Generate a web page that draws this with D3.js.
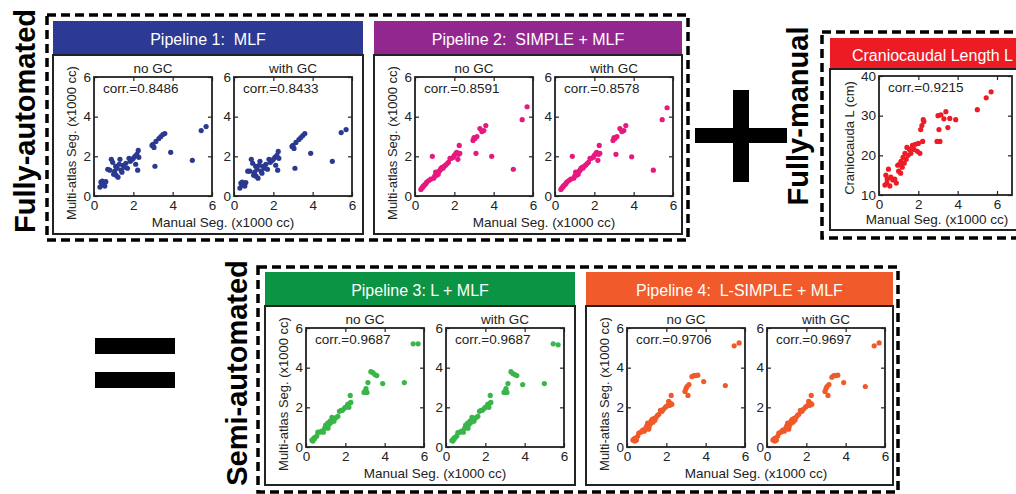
<!DOCTYPE html>
<html>
<head>
<meta charset="utf-8">
<script src="https://cdn.jsdelivr.net/npm/d3@7"></script>
<style>
  body { margin: 0; background: #fff; }
  svg { display: block; font-family: "Liberation Sans", Arial, sans-serif; }
</style>
</head>
<body>
<svg id="fig" width="1016" height="494"></svg>
<script>
// manual segmentation volume (x1000 cc), one entry per subject
const manual = [0.30,0.35,0.40,0.42,0.48,0.55,0.60,0.70,0.80,0.88,0.95,1.00,1.05,1.10,1.12,1.18,1.22,1.28,1.32,1.38,1.42,1.48,1.55,1.62,1.70,1.78,1.85,1.95,2.00,2.08,2.12,2.18,2.22,2.25,2.28,2.95,3.00,3.05,3.10,3.15,3.30,3.40,3.50,3.60,3.90,5.00,5.45,5.70];

// multi-atlas volumes per pipeline
const p1NoGC = [0.45,0.70,0.55,0.75,0.65,0.50,0.72,1.35,1.30,1.85,1.70,1.10,1.25,1.50,1.05,1.40,0.95,1.60,1.85,1.30,1.20,1.55,1.45,1.65,1.40,1.90,1.75,1.85,1.90,2.00,1.60,2.10,1.30,2.30,1.95,2.55,2.60,2.45,1.50,2.75,2.90,3.00,3.10,3.15,2.20,1.80,3.30,3.50];
const p1GC   = [0.40,0.65,0.55,0.70,0.60,0.50,0.68,1.25,1.25,1.85,1.65,1.05,1.20,1.50,1.00,1.35,0.90,1.55,1.75,1.25,1.15,1.50,1.40,1.60,1.35,1.85,1.70,1.80,1.85,1.95,1.55,2.05,1.30,2.25,1.90,2.50,2.55,2.40,1.40,2.70,2.85,2.95,3.05,3.15,2.15,1.75,3.20,3.35];
const p2NoGC = [0.33,0.40,0.45,0.50,0.55,0.62,0.70,0.78,0.85,2.00,0.90,1.00,1.20,1.05,1.15,1.10,1.25,1.30,1.40,1.45,1.40,1.50,1.55,1.62,1.70,1.90,1.90,1.95,2.05,2.15,2.20,1.85,2.10,2.55,2.15,2.80,2.95,2.90,2.15,3.00,3.40,3.25,3.30,3.55,2.00,1.35,3.85,4.50];
const p2GC   = [0.33,0.40,0.45,0.50,0.55,0.62,0.70,0.78,0.85,2.00,0.90,1.00,1.20,1.05,1.15,1.10,1.25,1.30,1.40,1.45,1.40,1.50,1.55,1.62,1.70,1.90,1.90,1.95,2.05,2.15,2.20,1.80,2.10,2.55,2.15,2.80,2.95,2.90,2.10,3.00,3.40,3.25,3.30,3.55,1.98,1.30,3.85,4.45];
const p3NoGC = [0.35,0.30,0.45,0.40,0.50,0.55,0.75,0.75,0.80,0.75,0.95,1.10,1.00,1.20,0.95,1.15,1.30,1.25,1.50,1.40,1.30,1.45,1.50,1.55,1.80,1.85,1.85,1.95,2.00,2.05,2.15,2.00,2.20,2.60,2.25,2.75,2.80,2.95,2.75,3.25,3.80,3.75,3.65,3.60,3.20,3.25,5.20,5.20];
const p3GC   = [0.33,0.30,0.45,0.40,0.50,0.55,0.72,0.75,0.80,0.75,0.95,1.10,1.00,1.20,0.95,1.15,1.30,1.25,1.50,1.40,1.30,1.45,1.50,1.55,1.80,1.85,1.85,1.95,2.00,2.05,2.15,2.00,2.20,2.60,2.25,2.75,2.80,2.95,2.75,3.20,3.80,3.70,3.65,3.60,3.15,3.20,5.20,5.15];
const p4NoGC = [0.35,0.40,0.30,0.45,0.35,0.55,0.70,0.75,0.85,0.80,0.95,1.05,1.20,0.90,1.00,1.15,1.30,1.40,1.25,1.45,1.35,1.50,1.60,1.65,1.85,1.80,1.90,2.00,2.05,2.10,2.30,2.10,2.20,2.60,2.15,2.80,2.95,3.05,2.60,3.15,3.55,3.60,3.60,3.62,3.30,3.10,5.10,5.25];
const p4GC   = [0.35,0.40,0.30,0.45,0.35,0.55,0.70,0.75,0.85,0.80,0.95,1.05,1.20,0.90,1.00,1.15,1.30,1.40,1.25,1.45,1.35,1.50,1.60,1.65,1.85,1.80,1.90,2.00,2.05,2.10,2.30,2.10,2.20,2.60,2.15,2.80,2.95,3.05,2.60,3.15,3.52,3.60,3.60,3.62,3.25,3.05,5.10,5.25];

// craniocaudal length (cm)
const cranio = [12.5,15.0,13.0,14.0,16.5,12.3,14.5,13.8,14.0,13.0,17.5,16.0,17.8,15.5,18.5,17.0,19.5,18.0,20.5,19.0,22.0,20.0,21.5,20.5,22.5,21.5,22.8,21.0,23.0,20.5,26.5,27.5,23.5,29.0,28.5,23.5,30.0,26.5,23.5,30.2,29.2,31.0,27.0,29.3,29.0,31.5,34.5,36.0];

const volTicks = [0, 2, 4, 6];
const lenTicks = [10, 20, 30, 40];
const subTitles = ["no GC", "with GC"];
const corrP1 = ["corr.=0.8486", "corr.=0.8433"];
const corrP2 = ["corr.=0.8591", "corr.=0.8578"];
const corrP3 = ["corr.=0.9687", "corr.=0.9687"];
const corrP4 = ["corr.=0.9706", "corr.=0.9697"];
const corrL = "corr.=0.9215";

const svg = d3.select("#fig");
const PW = 118, PH = 119;
const FS = 13.5;
const fmt = d3.format("d");

function scatter(x0, y0, w, xDom, yDom, xT, yT, xs, ys, color, title, corr) {
  const x = d3.scaleLinear().domain(xDom).range([x0, x0 + PW]);
  const y = d3.scaleLinear().domain(yDom).range([y0 + PH, y0]);
  const g = svg.append("g");
  g.append("rect").attr("x", x0).attr("y", y0).attr("width", w).attr("height", PH).attr("fill", "#fff");

  g.append("g").selectAll("circle")
    .data(xs)
    .join("circle")
    .attr("cx", d => x(d))
    .attr("cy", (d, i) => y(ys[i]))
    .attr("r", 2.6)
    .attr("fill", color);

  const addAxis = (axis, tx, ty, labels) => {
    const a = g.append("g").attr("transform", `translate(${tx},${ty})`).call(axis);
    a.select(".domain").remove();
    a.selectAll("line").attr("stroke", "#222").attr("stroke-width", 1.2);
    if (!labels) a.selectAll("text").remove();
    a.attr("font-family", null).attr("font-size", FS);
    a.selectAll("text").attr("fill", "#222");
  };
  addAxis(d3.axisBottom(x).tickValues(xT).tickFormat(fmt).tickSize(-4).tickPadding(4), 0, y0 + PH, true);
  addAxis(d3.axisTop(x).tickValues(xT).tickSize(-4), 0, y0, false);
  addAxis(d3.axisLeft(y).tickValues(yT).tickFormat(fmt).tickSize(-4).tickPadding(3), x0, 0, true);
  addAxis(d3.axisRight(y).tickValues(yT).tickSize(-4), x0 + w, 0, false);

  g.append("rect").attr("x", x0).attr("y", y0).attr("width", w).attr("height", PH)
    .attr("fill", "none").attr("stroke", "#222").attr("stroke-width", 1.8);

  if (title) {
    g.append("text").attr("x", x0 + w / 2).attr("y", y0 - 4).attr("text-anchor", "middle")
      .attr("font-size", FS).attr("fill", "#222").text(title);
  }
  g.append("text").attr("x", x0 + 9).attr("y", y0 + 16)
    .attr("font-size", FS).attr("fill", "#222").text(corr);
}

function header(px, py, pw, ph, color, title) {
  svg.append("rect").attr("x", px).attr("y", py).attr("width", pw).attr("height", ph).attr("fill", color);
  svg.append("text").attr("x", px + pw / 2).attr("y", py + ph / 2 + 7)
    .attr("text-anchor", "middle").attr("font-size", 16).attr("fill", "#fff")
    .style("white-space", "pre").text(title);
}

function pipeline(px, py, pw, color, dot, title, ysNo, ysGC, corr) {
  const hh = 34, bh = 179;
  header(px, py, pw, hh, color, title);
  svg.append("rect").attr("x", px).attr("y", py + hh).attr("width", pw).attr("height", bh)
    .attr("fill", "#fff").attr("stroke", "#222").attr("stroke-width", 2);
  const top = py + hh + 22;
  [ysNo, ysGC].forEach((ys, k) => {
    scatter(px + 41 + k * 140, top, PW, [0, 6], [0, 6], volTicks, volTicks, manual, ys, dot, subTitles[k], corr[k]);
  });
  svg.append("text").attr("transform", `translate(${px + 23},${top + 66}) rotate(-90)`)
    .attr("text-anchor", "middle").attr("font-size", 13).attr("fill", "#222")
    .text("Multi-atlas Seg. (x1000 cc)");
  svg.append("text").attr("x", px + 170).attr("y", top + 150)
    .attr("text-anchor", "middle").attr("font-size", FS).attr("fill", "#222")
    .text("Manual Seg. (x1000 cc)");
}

function dashed(x, y, w, h) {
  svg.append("rect").attr("x", x).attr("y", y).attr("width", w).attr("height", h)
    .attr("fill", "none").attr("stroke", "#000").attr("stroke-width", 3.5).attr("stroke-dasharray", "9,5");
}

function bigLabel(x, y, txt) {
  svg.append("text").attr("transform", `translate(${x},${y}) rotate(-90)`)
    .attr("text-anchor", "middle").attr("font-size", 29).attr("font-weight", "bold")
    .attr("fill", "#000").text(txt);
}

// fully automated
dashed(47, 15, 641, 225);
pipeline(53, 21, 310, "#2d3a93", "#2b3990", "Pipeline 1:  MLF", p1NoGC, p1GC, corrP1);
pipeline(374, 21, 308, "#92278f", "#e6197e", "Pipeline 2:  SIMPLE + MLF", p2NoGC, p2GC, corrP2);
bigLabel(35, 121, "Fully-automated");

// plus
svg.append("rect").attr("x", 733).attr("y", 90).attr("width", 16).attr("height", 92).attr("fill", "#000");
svg.append("rect").attr("x", 695).attr("y", 128).attr("width", 92).attr("height", 15).attr("fill", "#000");

// fully manual
dashed(822, 32, 220, 206);
bigLabel(808, 116, "Fully-manual");
header(830, 38, 205, 31, "#ed1c24", "Craniocaudal Length L");
svg.append("rect").attr("x", 830).attr("y", 69).attr("width", 205).attr("height", 161)
  .attr("fill", "#fff").attr("stroke", "#222").attr("stroke-width", 2);
scatter(879, 76, 133, [0, 6], [10, 40], volTicks, lenTicks, manual, cranio, "#ed1c24", null, corrL);
svg.append("text").attr("transform", "translate(854,138) rotate(-90)")
  .attr("text-anchor", "middle").attr("font-size", 13).attr("fill", "#222").text("Craniocauda L (cm)");
svg.append("text").attr("x", 937).attr("y", 224).attr("text-anchor", "middle")
  .attr("font-size", FS).attr("fill", "#222").text("Manual Seg. (x1000 cc)");

// equals
svg.append("rect").attr("x", 95).attr("y", 338).attr("width", 80).attr("height", 16).attr("fill", "#000");
svg.append("rect").attr("x", 95).attr("y", 372).attr("width", 80).attr("height", 16).attr("fill", "#000");

// semi automated
dashed(258, 267, 640, 225);
pipeline(265, 272, 310, "#0b9444", "#39b54a", "Pipeline 3: L + MLF", p3NoGC, p3GC, corrP3);
pipeline(586, 272, 307, "#f15a2b", "#f05a28", "Pipeline 4:  L-SIMPLE + MLF", p4NoGC, p4GC, corrP4);
bigLabel(247, 373, "Semi-automated");
</script>
</body>
</html>
